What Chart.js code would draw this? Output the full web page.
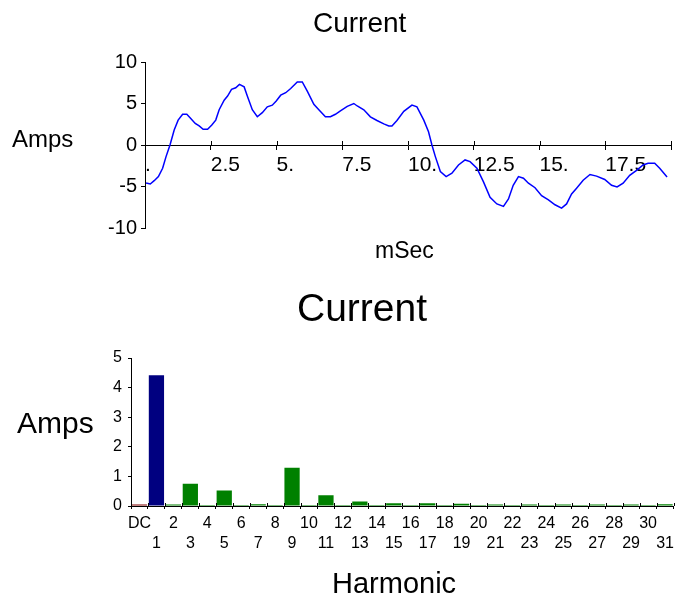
<!DOCTYPE html>
<html>
<head>
<meta charset="utf-8">
<script src="https://cdn.jsdelivr.net/npm/chart.js@4.4.0/dist/chart.umd.min.js"></script>
<style>
  html, body { margin: 0; padding: 0; background: #fff; }
  #wrap { position: relative; width: 679px; height: 601px; }
  canvas { position: absolute; left: 0; }
</style>
</head>
<body>
<div id="wrap">
  <canvas id="wave" width="679" height="280" style="top:0"></canvas>
  <canvas id="harm" width="679" height="321" style="top:280px"></canvas>
</div>
<script>
// waveform (ms, amps)
const timeMs = [0.04, 0.2, 0.35, 0.51, 0.67, 0.8, 0.95, 1.11, 1.26, 1.43, 1.59, 1.74, 1.91, 2.06, 2.21, 2.38,
  2.54, 2.69, 2.82, 3.01, 3.14, 3.29, 3.45, 3.59, 3.77, 3.89, 4.08, 4.27, 4.46, 4.65, 4.84, 4.99, 5.16, 5.35,
  5.54, 5.79, 5.98, 6.17, 6.42, 6.61, 6.86, 7.05, 7.24, 7.43, 7.69, 7.94, 8.07, 8.32, 8.57, 8.82, 9.08, 9.27,
  9.39, 9.58, 9.84, 10.15, 10.34, 10.6, 10.78, 10.91, 11.04, 11.23, 11.45, 11.67, 11.92, 12.17, 12.36, 12.62,
  12.87, 13.12, 13.38, 13.63, 13.82, 14.0, 14.2, 14.39, 14.58, 14.83, 15.08, 15.34, 15.59, 15.84, 16.03, 16.22,
  16.41, 16.66, 16.92, 17.17, 17.48, 17.74, 17.95, 18.18, 18.43, 18.69, 18.94, 19.13, 19.38, 19.57, 19.85];
const amps = [-4.57, -4.7, -4.3, -3.8, -2.8, -1.4, 0, 1.8, 3.0, 3.7, 3.7, 3.2, 2.6, 2.3, 1.9, 1.9,
  2.4, 3.0, 4.25, 5.4, 5.9, 6.7, 6.9, 7.3, 7.0, 5.9, 4.25, 3.4, 3.9, 4.6, 4.8, 5.3, 6.0, 6.3,
  6.8, 7.6, 7.6, 6.5, 4.9, 4.25, 3.4, 3.4, 3.7, 4.1, 4.65, 5.0, 4.7, 4.25, 3.4, 2.95, 2.55, 2.3,
  2.3, 2.95, 4.05, 4.8, 4.6, 3.0, 1.6, 0, -1.4, -3.2, -3.8, -3.4, -2.4, -1.8, -2.0, -2.8,
  -4.45, -6.3, -7.1, -7.4, -6.5, -4.85, -3.8, -4.0, -4.6, -5.15, -6.1, -6.6, -7.2, -7.6, -7.1, -5.9,
  -5.2, -4.25, -3.55, -3.75, -4.15, -4.85, -5.05, -4.6, -3.65, -3.05, -2.4, -2.2, -2.2, -2.8, -3.85];
const xTickLabels = ['.', '2.5', '5.', '7.5', '10.', '12.5', '15.', '17.5', ''];

// harmonic spectrum
const harmonics = ['DC', '1', '2', '3', '4', '5', '6', '7', '8', '9', '10', '11', '12', '13', '14', '15',
  '16', '17', '18', '19', '20', '21', '22', '23', '24', '25', '26', '27', '28', '29', '30', '31'];
const harmonicAmps = [0.05, 4.42, 0.05, 0.75, 0.03, 0.52, 0.03, 0.06, 0.03, 1.29, 0.03, 0.36, 0.03, 0.15, 0.03, 0.09,
  0.03, 0.09, 0.03, 0.08, 0.03, 0.05, 0.03, 0.05, 0.03, 0.05, 0.03, 0.05, 0.03, 0.05, 0.03, 0.06];

const FONT = 'Arial, "Liberation Sans", Helvetica, sans-serif';
Chart.defaults.font.family = FONT;
Chart.defaults.color = '#000';

// free text (titles, axis names) placed like the original
const captions = {
  id: 'captions',
  afterDraw(chart, args, opts) {
    const ctx = chart.ctx;
    ctx.save();
    ctx.fillStyle = '#000';
    ctx.textAlign = 'left';
    ctx.textBaseline = 'alphabetic';
    (opts.items || []).forEach(it => {
      ctx.font = it.size + 'px ' + FONT;
      ctx.fillText(it.text, it.x, it.y);
    });
    ctx.restore();
  }
};

// tick marks poking above the x axis line too
const crossTicks = {
  id: 'crossTicks',
  afterDraw(chart, args, opts) {
    const x = chart.scales.x, y = chart.scales.y;
    const base = Math.round(y.getPixelForValue(0));
    let px;
    if (x.type === 'category') {
      px = x.ticks.map((t, i) => x.getPixelForValue(i - 0.5));
      px.push(x.getPixelForValue(x.ticks.length - 0.5));
    } else {
      px = x.ticks.map(t => x.getPixelForValue(t.value));
    }
    const ctx = chart.ctx;
    ctx.save();
    ctx.strokeStyle = '#000';
    ctx.lineWidth = 1;
    ctx.beginPath();
    px.forEach(p => {
      const xx = Math.round(p) + 0.5;
      ctx.moveTo(xx, base - opts.up);
      ctx.lineTo(xx, base);
    });
    ctx.stroke();
    ctx.restore();
  }
};

new Chart(document.getElementById('wave'), {
  type: 'line',
  data: {
    datasets: [{
      data: timeMs.map((t, i) => ({ x: t, y: amps[i] })),
      borderColor: '#0000ff',
      borderWidth: 1.5,
      pointRadius: 0,
      tension: 0,
      fill: false
    }]
  },
  options: {
    responsive: false,
    animation: false,
    devicePixelRatio: 1,
    layout: { padding: { top: 62, bottom: 52, left: 0, right: 8 } },
    plugins: {
      legend: { display: false },
      tooltip: { enabled: false },
      crossTicks: { up: 4 },
      captions: {
        items: [
          { text: 'Current', x: 313, y: 32, size: 28 },
          { text: 'Amps', x: 12, y: 147, size: 24 },
          { text: 'mSec', x: 375, y: 258, size: 23 }
        ]
      }
    },
    scales: {
      x: {
        type: 'linear',
        min: 0,
        max: 20,
        position: { y: 0 },
        border: { color: '#000', width: 1 },
        grid: { drawOnChartArea: false, tickLength: 4, color: '#000' },
        ticks: {
          stepSize: 2.5,
          align: 'start',
          padding: 4,
          autoSkip: false,
          maxRotation: 0,
          font: { size: 21 },
          callback: (v, i) => xTickLabels[i] ?? ''
        }
      },
      y: {
        min: -10,
        max: 10,
        border: { color: '#000', width: 1 },
        grid: { drawOnChartArea: false, tickLength: 4, color: '#000' },
        ticks: { stepSize: 5, padding: 4, font: { size: 20 } },
        afterFit: s => { s.width = 145; }
      }
    }
  },
  plugins: [captions, crossTicks]
});

new Chart(document.getElementById('harm'), {
  type: 'bar',
  data: {
    labels: harmonics,
    datasets: [{
      data: harmonicAmps,
      backgroundColor: harmonics.map((h, i) => i === 0 ? '#800000' : (i === 1 ? '#000080' : '#008000')),
      barPercentage: 0.9,
      categoryPercentage: 1
    }]
  },
  options: {
    responsive: false,
    animation: false,
    devicePixelRatio: 1,
    layout: { padding: { top: 78, bottom: 0, left: 0, right: 5 } },
    plugins: {
      legend: { display: false },
      tooltip: { enabled: false },
      crossTicks: { up: 3 },
      captions: {
        items: [
          { text: 'Current', x: 297, y: 41, size: 39 },
          { text: 'Amps', x: 17, y: 153, size: 30 },
          { text: 'Harmonic', x: 332, y: 313, size: 29 }
        ]
      }
    },
    scales: {
      x: {
        border: { color: '#000', width: 1 },
        grid: { drawOnChartArea: false, tickLength: 3, color: '#000', offset: true },
        ticks: {
          autoSkip: false,
          maxRotation: 0,
          padding: 5,
          font: { size: 16, lineHeight: 1.22 },
          callback: (v, i) => i % 2 ? ['', harmonics[i]] : harmonics[i]
        },
        afterFit: s => { s.height = 95; }
      },
      y: {
        min: 0,
        max: 5,
        border: { color: '#000', width: 1 },
        grid: { drawOnChartArea: false, tickLength: 3, color: '#000' },
        ticks: { stepSize: 1, padding: 6, font: { size: 16 } },
        afterFit: s => { s.width = 131; }
      }
    }
  },
  plugins: [captions, crossTicks]
});
</script>
</body>
</html>
